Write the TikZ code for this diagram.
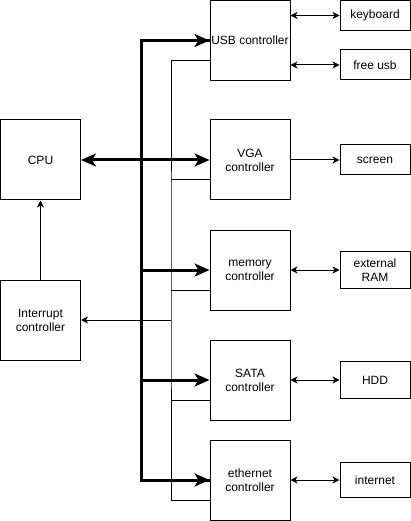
\documentclass[tikz,border=0pt]{standalone}
\usepackage{fontspec}
\setmainfont{Liberation Sans}
\usetikzlibrary{arrows.meta}
\begin{document}
\begin{tikzpicture}[x=1pt,y=-1pt,
  box/.style={draw, line width=1pt, minimum width=80pt, minimum height=80pt, inner sep=0pt, align=center, font=\fontsize{12}{14}\selectfont},
  dev/.style={draw, line width=1pt, minimum width=70pt, inner sep=0pt, align=center, font=\fontsize{12}{14}\selectfont},
  thin/.style={line width=1pt},
  thinarrow/.style={line width=1pt, -{Stealth[length=7pt,width=7pt,inset=2pt]}},
  dblarrow/.style={line width=1pt, {Stealth[length=7pt,width=7pt,inset=2pt]}-{Stealth[length=7pt,width=7pt,inset=2pt]}},
  busline/.style={line width=3pt},
  busarrow/.style={line width=3pt, -{Stealth[length=15pt,width=13pt,inset=4pt]}},
  busdbl/.style={line width=3pt, {Stealth[length=15pt,width=13pt,inset=4pt]}-{Stealth[length=15pt,width=13pt,inset=4pt]}}]
\useasboundingbox (0,0) rectangle (411,521);
% controllers
\node[box] (usb) at (250,40.5) {USB controller};
\node[box] (vga) at (250,160) {VGA\\controller};
\node[box] (mem) at (250,270) {memory\\controller};
\node[box] (sata) at (250,380) {SATA\\controller};
\node[box] (eth) at (250,480) {ethernet\\controller};
% left
\node[box] (cpu) at (40.5,160) {CPU};
\node[box] (irq) at (40.5,320) {Interrupt\\controller};
% devices
\node[dev, minimum height=30pt] (kbd) at (375,15.5) {keyboard};
\node[dev, minimum height=30pt] (fusb) at (375,65) {free usb};
\node[dev, minimum height=30pt] (scr) at (375,160) {screen};
\node[dev, minimum height=37pt] (ram) at (375,270) {external\\RAM};
\node[dev, minimum height=37pt] (hdd) at (375,380) {HDD};
\node[dev, minimum height=35pt] (inet) at (375,480) {internet};
% device links
\draw[dblarrow] (usb.east |- kbd) -- (kbd.west);
\draw[dblarrow] (usb.east |- fusb) -- (fusb.west);
\draw[thinarrow] (vga.east) -- (scr.west);
\draw[dblarrow] (mem.east) -- (ram.west);
\draw[dblarrow] (sata.east) -- (hdd.west);
\draw[dblarrow] (eth.east) -- (inet.west);
% interrupt lines
\coordinate (irqbus) at (171,280);
\draw[thin] ([yshift=-20pt]usb.west) -| (irqbus) |- ([yshift=-20pt]eth.west);
\draw[thin] ([yshift=-20pt]vga.west -| irqbus) -- ([yshift=-20pt]vga.west);
\draw[thin] ([yshift=-20pt]mem.west -| irqbus) -- ([yshift=-20pt]mem.west);
\draw[thin] ([yshift=-20pt]sata.west -| irqbus) -- ([yshift=-20pt]sata.west);
\draw[thinarrow] (irqbus |- irq.east) -- (irq.east);
\draw[thinarrow] (irq.north) -- (cpu.south);
% system bus
\coordinate (bus) at (141,260);
\draw[busline] (usb.west) -| (bus) |- (eth.west);
\draw[busarrow] (bus |- usb.west) -- (usb.west);
\draw[busarrow] (bus |- eth.west) -- (eth.west);
\draw[busarrow] (bus |- mem.west) -- (mem.west);
\draw[busarrow] (bus |- sata.west) -- (sata.west);
\draw[busdbl] (cpu.east) -- (vga.west);
\end{tikzpicture}
\end{document}
